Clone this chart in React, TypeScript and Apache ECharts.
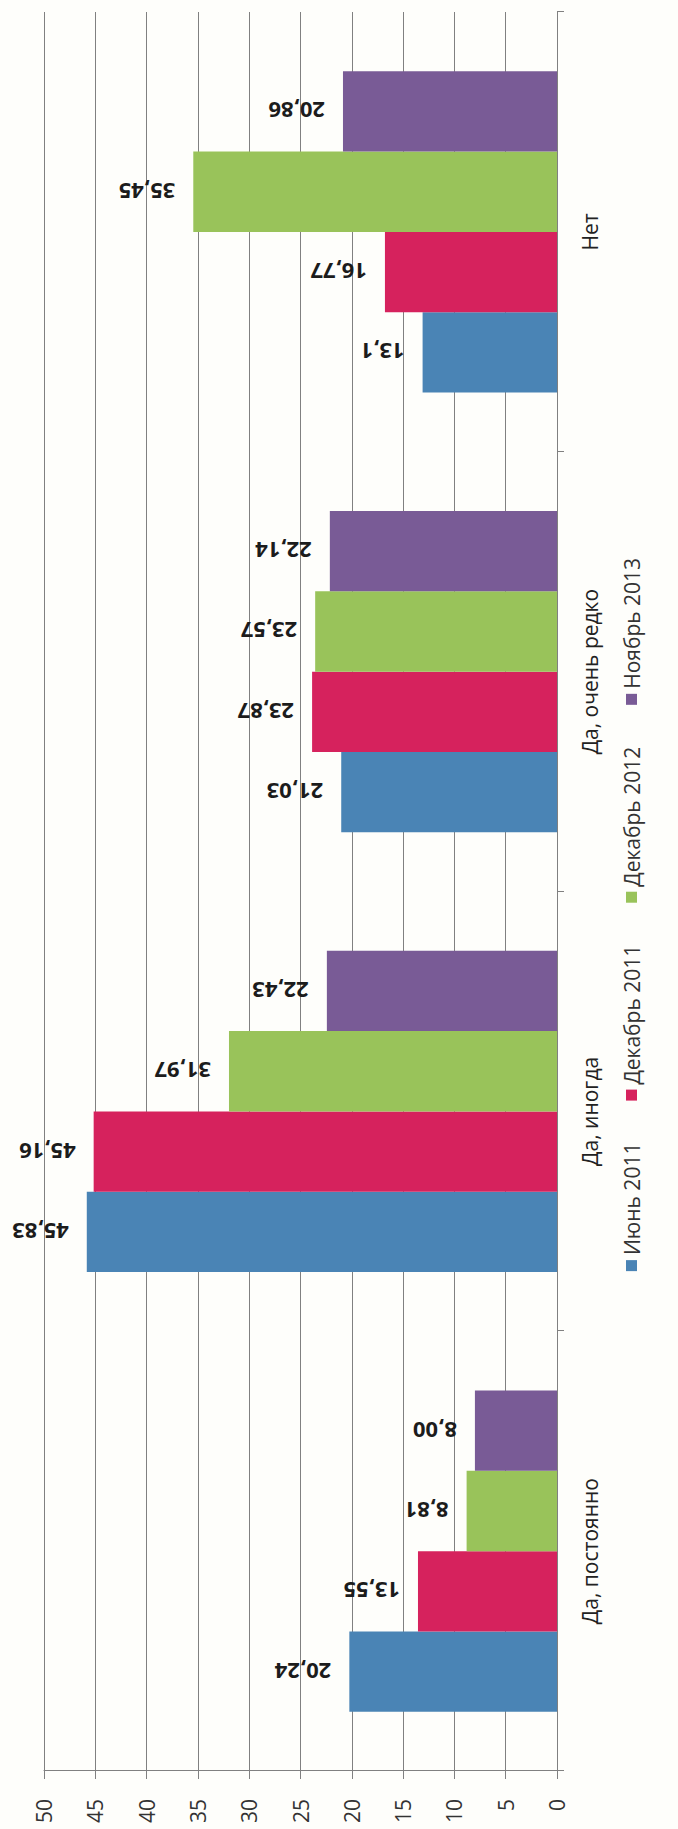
import React, { useEffect, useRef } from "react";
import * as echarts from "echarts";

const categories = ["Да, постоянно", "Да, иногда", "Да, очень редко", "Нет"];
const seriesNames = ["Июнь 2011", "Декабрь 2011", "Декабрь 2012", "Ноябрь 2013"];

const june2011 = [20.24, 45.83, 21.03, 13.1];
const dec2011 = [13.55, 45.16, 23.87, 16.77];
const dec2012 = [8.81, 31.97, 23.57, 35.45];
const nov2013 = [8.0, 22.43, 22.14, 20.86];

const june2011Labels = ["20,24", "45,83", "21,03", "13,1"];
const dec2011Labels = ["13,55", "45,16", "23,87", "16,77"];
const dec2012Labels = ["8,81", "31,97", "23,57", "35,45"];
const nov2013Labels = ["8,00", "22,43", "22,14", "20,86"];

const valueMin = 0;
const valueMax = 50;
const valueStep = 5;

const colors = ["#4a84b5", "#d6225d", "#99c35a", "#795b96"];

const FONT = "'Open Sans', 'DejaVu Sans', sans-serif";

export default function App() {
  const ref = useRef<HTMLDivElement>(null);

  useEffect(() => {
    if (!ref.current) return;
    const chart = echarts.init(ref.current, undefined, { renderer: "svg" });
    const values = [june2011, dec2011, dec2012, nov2013];
    const labels = [june2011Labels, dec2011Labels, dec2012Labels, nov2013Labels];

    chart.setOption({
      animation: false,
      backgroundColor: "#fefefb",
      color: colors,
      textStyle: { fontFamily: FONT },
      grid: { left: 58, right: 12, top: 44, bottom: 121, containLabel: false },
      legend: {
        data: seriesNames,
        bottom: 31,
        left: "center",
        icon: "rect",
        itemWidth: 11,
        itemHeight: 11,
        itemGap: 42,
        textStyle: { fontSize: 21, color: "#333", fontFamily: FONT },
      },
      xAxis: {
        type: "category",
        data: categories,
        axisLine: { show: true, lineStyle: { color: "#808080", width: 1 } },
        axisTick: { show: true, alignWithLabel: false, length: 7, lineStyle: { color: "#808080" } },
        axisLabel: { fontSize: 21, color: "#222", margin: 22, fontFamily: FONT },
        splitLine: { show: false },
      },
      yAxis: {
        type: "value",
        min: valueMin,
        max: valueMax,
        interval: valueStep,
        axisLine: { show: true, lineStyle: { color: "#808080", width: 1 } },
        axisTick: { show: true, length: 8, lineStyle: { color: "#808080" } },
        axisLabel: { fontSize: 21, color: "#333", margin: 28, fontFamily: FONT },
        splitLine: { show: true, lineStyle: { color: "#808080", width: 1 } },
      },
      series: seriesNames.map((name, i) => ({
        name,
        type: "bar",
        data: values[i],
        barGap: "0%",
        barCategoryGap: "27%",
        itemStyle: { color: colors[i] },
        label: {
          show: true,
          position: "top",
          rotate: 90,
          align: "left",
          verticalAlign: "middle",
          distance: 18,
          fontSize: 22,
          fontWeight: "bold",
          color: "#1c1c1c",
          fontFamily: FONT,
          formatter: (p: any) => labels[i][p.dataIndex],
        },
      })),
    });

    return () => chart.dispose();
  }, []);

  return (
    <div
      style={{
        position: "absolute",
        left: 0,
        top: 0,
        width: 678,
        height: 1829,
        overflow: "hidden",
        background: "#fefefb",
      }}
    >
      <div
        ref={ref}
        style={{
          position: "absolute",
          left: 0,
          top: 0,
          width: 1829,
          height: 678,
          transformOrigin: "0 0",
          transform: "translate(0px, 1829px) rotate(-90deg)",
        }}
      />
    </div>
  );
}
